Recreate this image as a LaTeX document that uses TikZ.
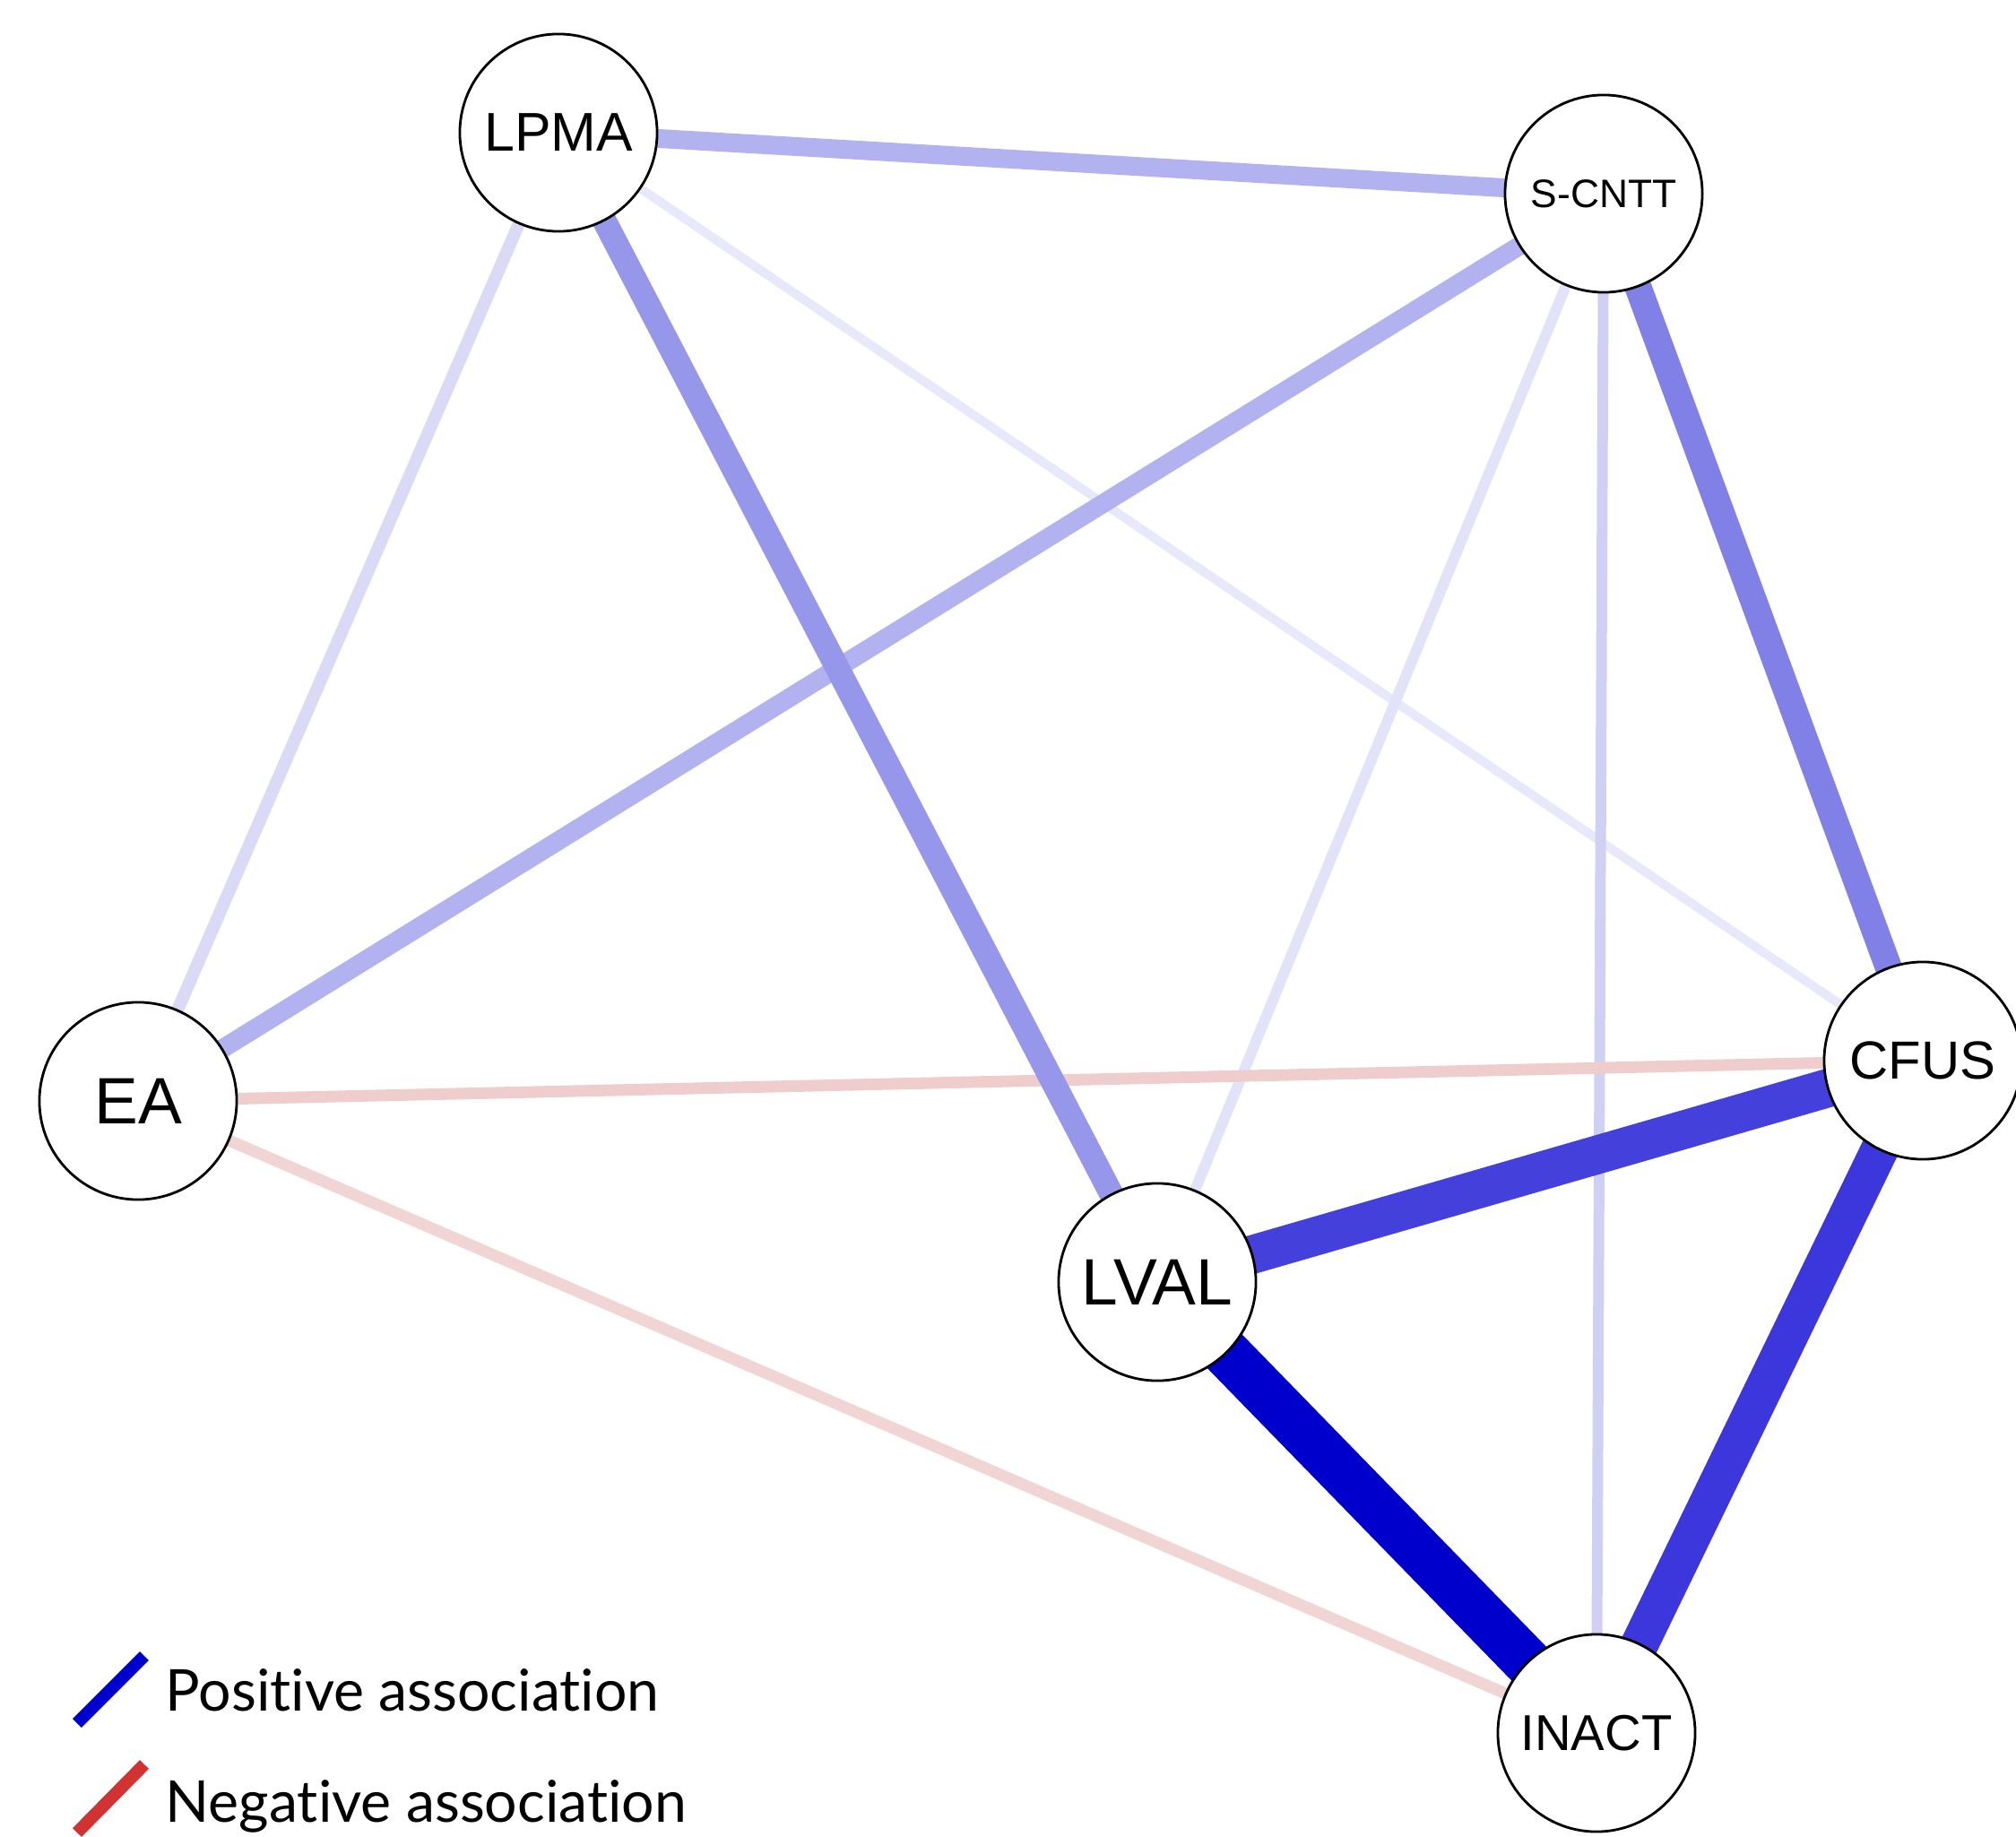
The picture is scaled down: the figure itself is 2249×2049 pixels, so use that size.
\documentclass[tikz,border=0pt]{standalone}
\usepackage{fontspec}
\setmainfont{Liberation Sans}
\newfontfamily\latofont[Ligatures=NoCommon]{Lato}
\usetikzlibrary{backgrounds}
\definecolor{cA}{RGB}{0,0,205}
\definecolor{cB}{RGB}{68,64,220}
\definecolor{cC}{RGB}{60,55,220}
\definecolor{cD}{RGB}{128,128,230}
\definecolor{cE}{RGB}{150,150,235}
\definecolor{cF}{RGB}{178,178,240}
\definecolor{cG}{RGB}{218,218,246}
\definecolor{cH}{RGB}{208,208,245}
\definecolor{cI}{RGB}{226,226,249}
\definecolor{cJ}{RGB}{232,232,251}
\definecolor{nA}{RGB}{240,205,205}
\definecolor{nB}{RGB}{241,212,212}
\definecolor{legblue}{RGB}{0,0,205}
\definecolor{legred}{RGB}{210,50,50}
\tikzset{
  var/.style={circle, draw=black, line width=0.8pt, fill=white, minimum size=2.2cm, inner sep=0pt},
  edge/.style={line cap=butt},
  legtext/.style={anchor=base west, inner sep=0pt, font=\latofont\fontsize{18.3pt}{22pt}\selectfont},
}
\begin{document}
\begin{tikzpicture}[x=0.01cm, y=-0.01cm]
\useasboundingbox (0,0) rectangle (2249,2049);
\node[var, font=\fontsize{17.3pt}{20pt}\selectfont] (LPMA) at (623,148) {LPMA};
\node[var, font=\fontsize{12.6pt}{15pt}\selectfont] (SCNTT) at (1789,216) {S-CNTT};
\node[var, font=\fontsize{20.8pt}{24pt}\selectfont] (EA) at (154,1228) {EA};
\node[var, font=\fontsize{17pt}{20pt}\selectfont] (CFUS) at (2145,1183) {CFUS};
\node[var, font=\fontsize{20.8pt}{24pt}\selectfont] (LVAL) at (1291,1430) {LVAL};
\node[var, font=\fontsize{16pt}{19pt}\selectfont] (INACT) at (1781,1933) {INACT};
\begin{scope}[on background layer]
\draw[edge, cJ, line width=0.10cm] (LPMA.center) -- (CFUS.center);
\draw[edge, cI, line width=0.12cm] (SCNTT.center) -- (LVAL.center);
\draw[edge, cH, line width=0.12cm] (SCNTT.center) -- (INACT.center);
\draw[edge, nB, line width=0.13cm] (EA.center) -- (INACT.center);
\draw[edge, cG, line width=0.14cm] (LPMA.center) -- (EA.center);
\draw[edge, nA, line width=0.13cm] (EA.center) -- (CFUS.center);
\draw[edge, cF, line width=0.21cm] (LPMA.center) -- (SCNTT.center);
\draw[edge, cF, line width=0.21cm] (SCNTT.center) -- (EA.center);
\draw[edge, cE, line width=0.27cm] (LPMA.center) -- (LVAL.center);
\draw[edge, cD, line width=0.30cm] (SCNTT.center) -- (CFUS.center);
\draw[edge, cC, line width=0.42cm] (CFUS.center) -- (INACT.center);
\draw[edge, cB, line width=0.43cm] (LVAL.center) -- (CFUS.center);
\draw[edge, cA, line width=0.54cm] (LVAL.center) -- (INACT.center);
\end{scope}
\coordinate (lb1) at (86,1922);
\coordinate (lb2) at (161,1847);
\coordinate (lr1) at (86,2044);
\coordinate (lr2) at (161,1968);
\draw[legblue, line width=0.14cm] (lb1) -- (lb2);
\draw[legred, line width=0.14cm] (lr1) -- (lr2);
\node[legtext] (pos) at (184,1908) {Posit\kern0pt ive associat\kern0pt ion};
\node[legtext] (neg) at (184,2032) {Negat\kern0pt ive associat\kern0pt ion};
\end{tikzpicture}
\end{document}
